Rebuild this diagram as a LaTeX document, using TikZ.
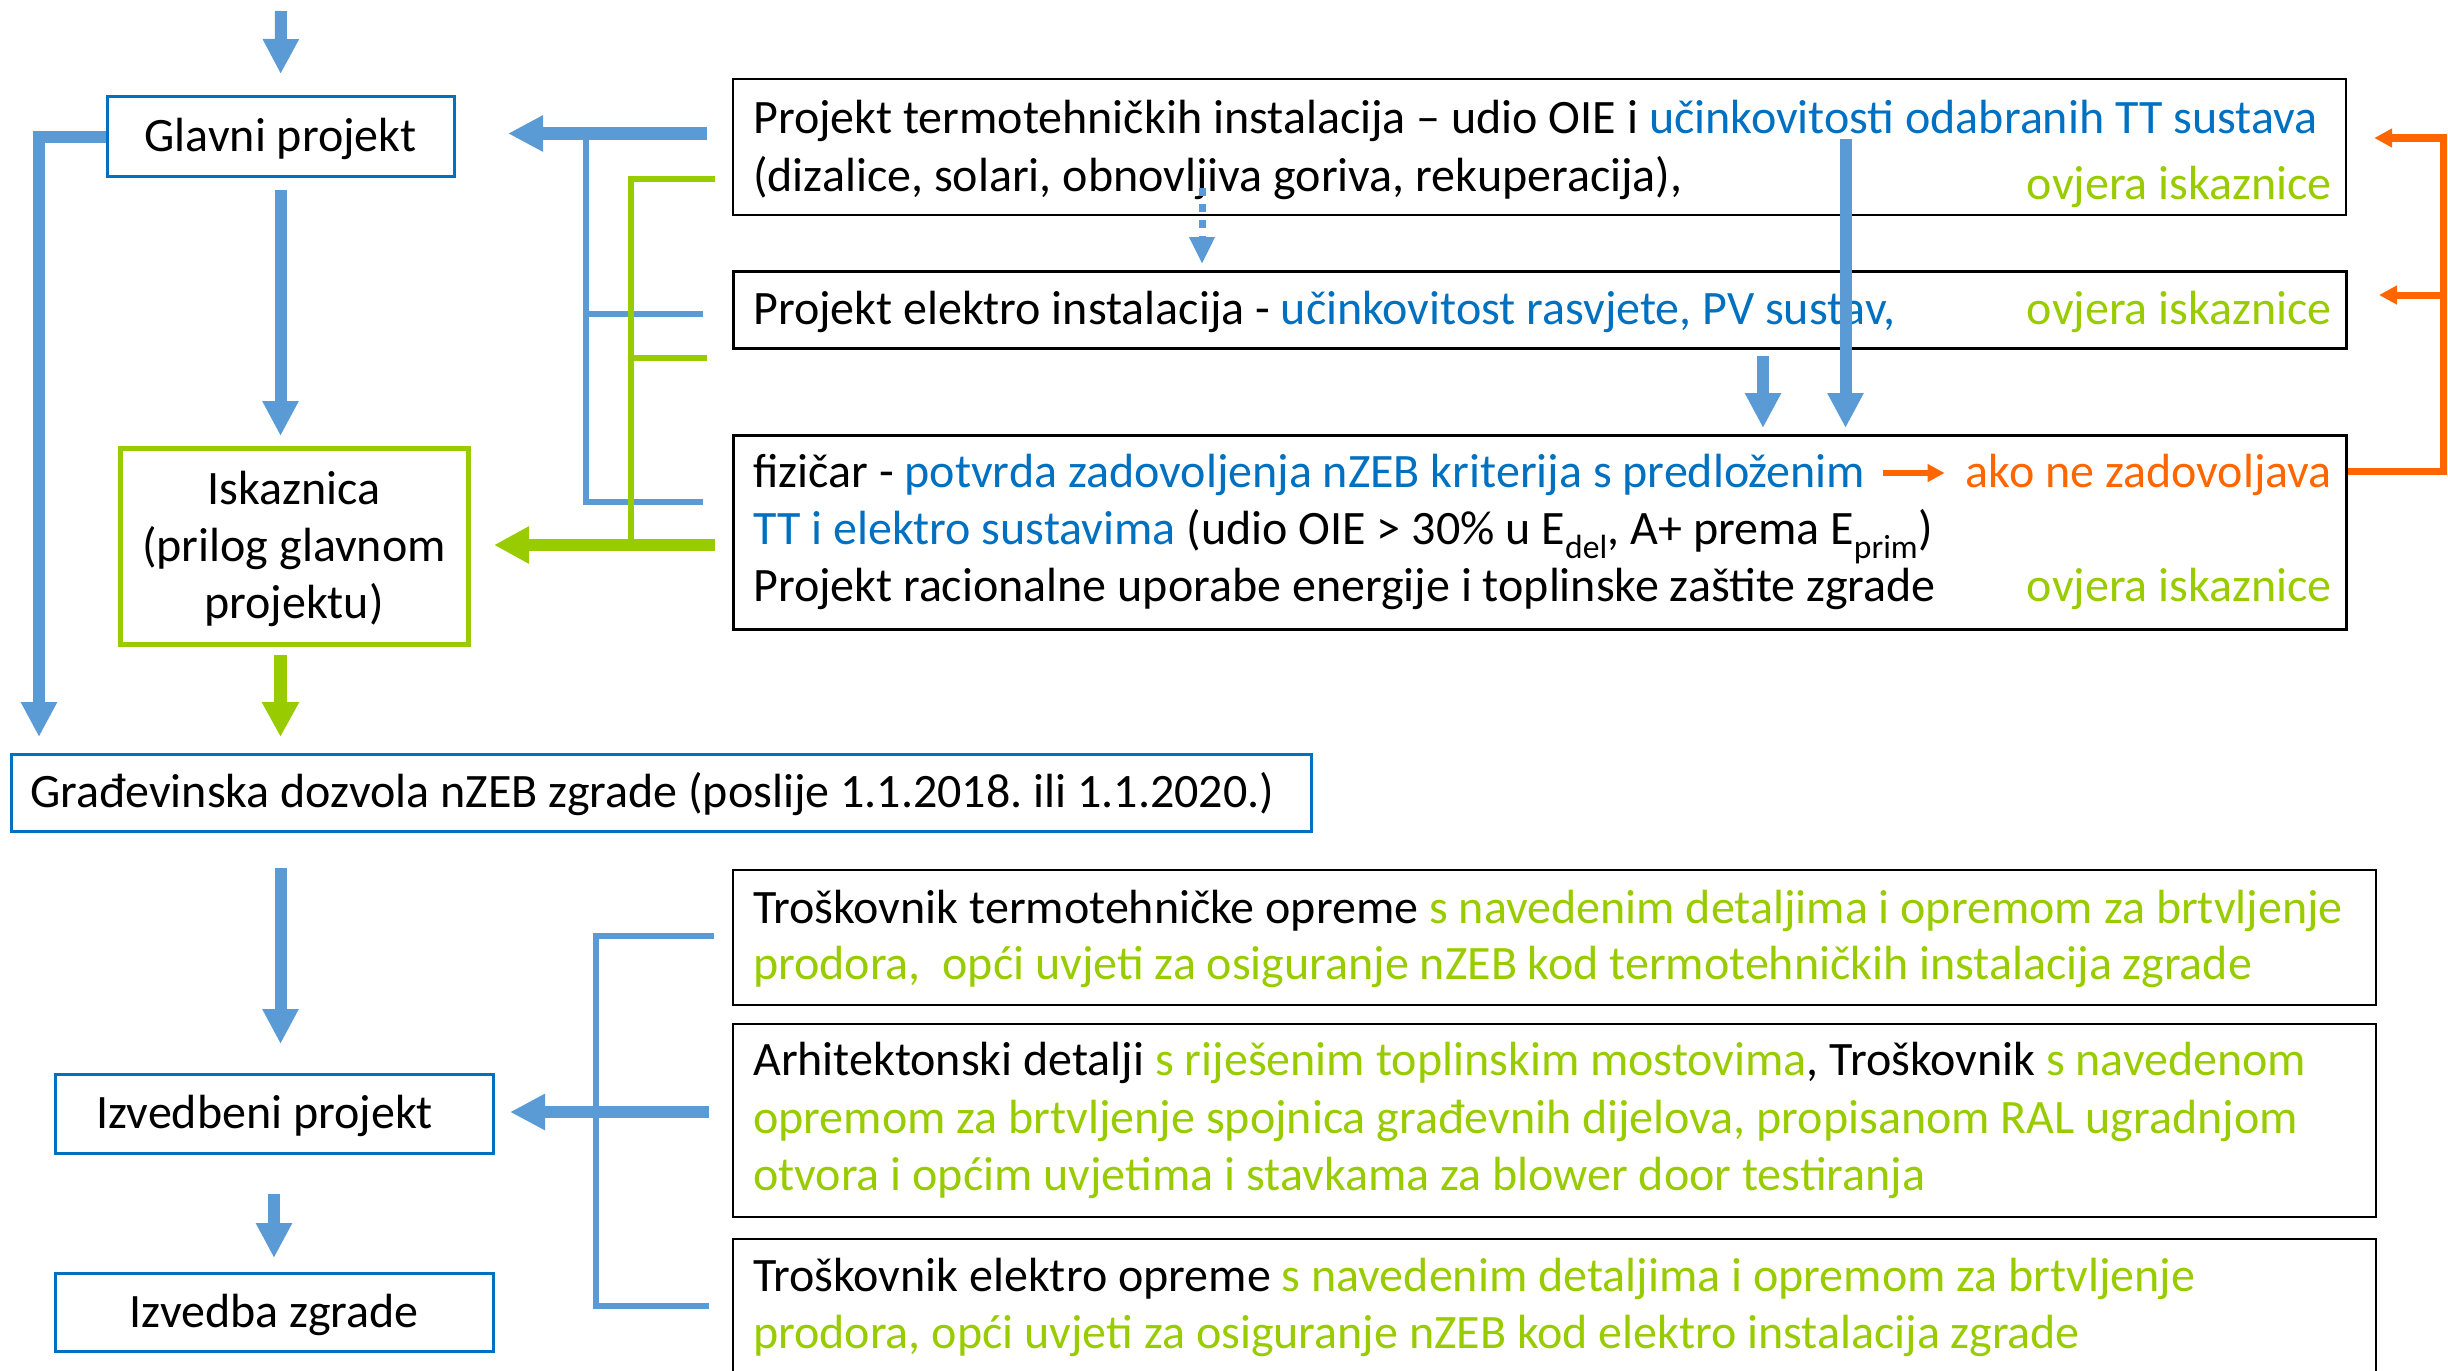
\documentclass[tikz,border=0pt]{standalone}
\usepackage{fontspec}
\setmainfont{Carlito}
\usetikzlibrary{arrows.meta,calc}
\definecolor{abl}{HTML}{5B9BD5}
\definecolor{tbl}{HTML}{0070C0}
\definecolor{grn}{HTML}{99CC00}
\definecolor{org}{HTML}{FF6600}
\frenchspacing
\begin{document}
\begin{tikzpicture}[x=1pt,y=-1pt,
  every node/.style={font=\fontsize{48}{57}\selectfont},
  lbox/.style={draw=tbl, line width=3pt, inner sep=0pt, text height=33pt, text depth=3pt},
  rbox/.style={draw=black, line width=2.2pt, inner sep=0pt, anchor=north west},
  txt/.style={anchor=base west, inner sep=0pt},
  ovj/.style={anchor=base east, inner sep=0pt, text=grn},
  bigarrow/.style={draw=abl, line width=12pt, -{Triangle[width=34pt,length=35pt]}},
  thinblue/.style={draw=abl, line width=6pt},
  thingreen/.style={draw=grn, line width=6pt},
  greenarrow/.style={draw=grn, line width=12.5pt, -{Triangle[width=35pt,length=35pt]}},
  dotarrow/.style={draw=abl, line width=7pt, dash pattern=on 8pt off 8pt, -{Triangle[width=24pt,length=27pt]}},
  orangeline/.style={draw=org, line width=7pt},
  orangearrow/.style={draw=org, line width=7pt, -{Triangle[width=18pt,length=18pt]}},
  smallorange/.style={draw=org, line width=6.5pt, -{Triangle[width=17pt,length=17pt]}}
]
\useasboundingbox (0,0) rectangle (2448,1370);
\clip (0,0) rectangle (2448,1370);

% left column boxes
\node[lbox, minimum width=347pt, minimum height=79pt] (glavni) at (280.5,136.5) {Glavni projekt};
\node[draw=grn, line width=5pt, inner sep=0pt, minimum width=348pt, minimum height=196pt, align=center] (isk) at (294,546) {\rule{0pt}{40pt}Iskaznica\\(prilog glavnom\\projektu)};
\node[lbox, minimum height=77pt, text width=1262pt, inner xsep=19pt, align=flush left] (grad) at (661,792.5) {Građevinska dozvola nZEB zgrade (poslije 1.1.2018. ili 1.1.2020.)};
\node[lbox, minimum width=438pt, minimum height=79pt] (izvp) at (274,1113.5) {Izvedbeni projekt\kern19pt};
\node[lbox, minimum width=438pt, minimum height=78pt] (izvz) at (274,1312) {Izvedba zgrade};

% right column boxes
\node[rbox, minimum width=1613pt, minimum height=136pt] (tt) at (732,78) {};
\node[rbox, line width=3pt, minimum width=1613pt, minimum height=77pt] (el) at (732,270) {};
\node[rbox, line width=2.6pt, minimum width=1613pt, minimum height=194pt] (fiz) at (732,434) {};
\node[rbox, minimum width=1643pt, minimum height=135pt] (ta) at (732,869) {};
\node[rbox, minimum width=1643pt, minimum height=193pt] (ar) at (732,1023) {};
\node[rbox, minimum width=1643pt, minimum height=200pt] (tc) at (732,1238) {};

% texts
\node[txt] (tt1) at (753,133) {Projekt termotehničkih instalacija – udio OIE i \textcolor{tbl}{učinkovitosti odabranih TT sustava}};
\node[txt] (tt2) at (753,191) {(dizalice, solari, obnovljiva goriva, rekuperacija),};
\node[ovj] (tt3) at (2332,199) {ovjera iskaznice};

\node[txt] (el1) at (753,324) {Projekt elektro instalacija - \textcolor{tbl}{učinkovitost rasvjete, PV sustav,}};
\node[ovj] (el2) at (2332,324) {ovjera iskaznice};

\node[txt] (fz1) at (753,487) {fizičar - \textcolor{tbl}{potvrda zadovoljenja nZEB kriterija s predloženim}};
\node[anchor=base east, inner sep=0pt, text=org] (ako) at (2332,487) {ako ne zadovoljava};
\node[txt] (fz2) at (753,544) {\textcolor{tbl}{TT i elektro sustavima} (udio OIE > 30\% u E\textsubscript{del}, A+ prema E\textsubscript{prim})};
\node[txt] (fz3) at (753,601) {Projekt racionalne uporabe energije i toplinske zaštite zgrade};
\node[ovj] (fz4) at (2332,601) {ovjera iskaznice};

\node[txt] (ta1) at (753,923) {Troškovnik termotehničke opreme \textcolor{grn}{s navedenim detaljima i opremom za brtvljenje}};
\node[txt, text=grn] (ta2) at (753,979) {prodora,\ \ opći uvjeti za osiguranje nZEB kod termotehničkih instalacija zgrade};

\node[txt] (ar1) at (753,1075) {Arhitektonski detalji \textcolor{grn}{s riješenim toplinskim mostovima}, Troškovnik \textcolor{grn}{s navedenom}};
\node[txt, text=grn] (ar2) at (753,1133) {opremom za brtvljenje spojnica građevnih dijelova, propisanom RAL ugradnjom};
\node[txt, text=grn] (ar3) at (753,1190) {otvora i općim uvjetima i stavkama za blower door testiranja};

\node[txt] (tc1) at (753,1291) {Troškovnik elektro opreme \textcolor{grn}{s navedenim detaljima i opremom za brtvljenje}};
\node[txt, text=grn] (tc2) at (753,1348) {prodora, opći uvjeti za osiguranje nZEB kod elektro instalacija zgrade};

% coordinates for connector ends
\coordinate (topin) at (281,11);
\coordinate (lbx) at (39,137);
\coordinate (ttb) at (707,133.5);
\coordinate (bx) at (586,133.5);
\coordinate (eb) at (703,314);
\coordinate (fb) at (703,502);
\coordinate (gx) at (631,179);
\coordinate (gt) at (715,179);
\coordinate (gm) at (707,358);
\coordinate (gb) at (715,545);
\coordinate (dt) at (1202,188);
\coordinate (lt) at (1845.5,139);
\coordinate (st) at (1763,354);
\coordinate (oa) at (2443,471);
\coordinate (ob) at (2443,138);
\coordinate (oc) at (2443,295);
\coordinate (sa) at (1883,473);
\coordinate (bt) at (714,936);
\coordinate (bbx) at (596,936);
\coordinate (bb) at (709,1306);
\coordinate (bm) at (709,1112);

% left column connectors
\draw[bigarrow, shorten >=21.5pt] (topin) -- (glavni.north);
\draw[bigarrow, shorten <=12.5pt, shorten >=9.5pt] (glavni.south) -- (glavni.south |- isk.north);
\draw[greenarrow, shorten <=8.5pt, shorten >=15.5pt] (isk.south -| glavni.south) -- (grad.north -| glavni.south);
\draw[bigarrow, shorten >=15.5pt] (glavni.west |- lbx) -- (lbx) -- (lbx |- grad.north);
\draw[bigarrow, shorten <=35.5pt, shorten >=28.5pt] (grad.south -| glavni.south) -- (izvp.north -| glavni.south);
\draw[bigarrow, shorten <=39.5pt, shorten >=13.5pt] (izvp.south) -- (izvz.north);

% brackets to the left column
\draw[thinblue] (bx) -- (bx |- fb) -- (fb);
\draw[thinblue] (bx |- eb) -- (eb);
\draw[bigarrow, shorten >=52.5pt] (ttb) -- (ttb -| glavni.east);
\draw[thingreen] (gt) -- (gx) -- (gx |- gb);
\draw[thingreen] (gm) -- (gm -| gx);
\draw[greenarrow, shorten >=23.5pt] (gb) -- (gb -| isk.east);

\draw[thinblue] (bt) -- (bbx) -- (bbx |- bb) -- (bb);
\draw[bigarrow, shorten >=15.5pt] (bm) -- (bm -| izvp.east);

% right column connectors
\draw[dotarrow, shorten >=6pt] (dt) -- (dt |- el.north);
\draw[bigarrow, shorten <=6pt, shorten >=6pt] (el.south -| st) -- (st |- fiz.north);
\draw[bigarrow, shorten >=6pt] (lt) -- (lt |- fiz.north);
\draw[smallorange, shorten >=21pt] (sa) -- (sa -| ako.west);
\draw[orangearrow, line join=miter, shorten >=27pt] (fiz.east |- oa) -- (oa) -- (ob) -- (ob -| tt.east);
\draw[orangearrow, shorten >=31pt] (oc) -- (oc -| el.east);
\end{tikzpicture}
\end{document}
